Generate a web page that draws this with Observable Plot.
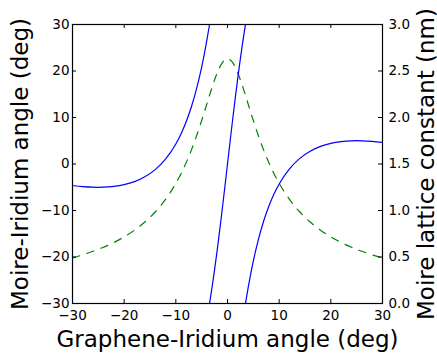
<!DOCTYPE html>
<html><head><meta charset="utf-8">
<script src="https://cdn.jsdelivr.net/npm/d3@7"></script>
<script src="https://cdn.jsdelivr.net/npm/@observablehq/plot@0.6"></script>
<style>
body{margin:0;background:#fff}
svg{font-family:"DejaVu Sans",sans-serif}
</style>
</head><body><div id="chart"></div>
<script>
// Tick values and labels
const xTicks = [-30, -20, -10, 0, 10, 20, 30];
const xTickLabels = ["−30", "−20", "−10", "0", "10", "20", "30"];
const yTicks = [-30, -20, -10, 0, 10, 20, 30];
const yTickLabels = ["−30", "−20", "−10", "0", "10", "20", "30"];
const nmTicks = [0, 0.5, 1, 1.5, 2, 2.5, 3];
const nmTickLabels = ["0.0", "0.5", "1.0", "1.5", "2.0", "2.5", "3.0"];

// Blue: Moire-Iridium angle (deg), three wrapped branches
const leftTheta = [-30, -28, -26, -25, -24, -22, -20, -18, -16, -14, -12, -10, -9, -8, -7, -6, -5, -4.5, -4, -3.48];
const leftAngle = [-4.62, -4.86, -4.99, -5.01, -4.99, -4.82, -4.44, -3.78, -2.74, -1.21, 1.04, 4.30, 6.46, 9.07, 12.25, 16.15, 20.85, 23.58, 26.58, 30];
const midTheta = [-3.48, -3.3, -3, -2.5, -2, -1.5, -1, -0.5, 0, 0.5, 1, 1.5, 2, 2.5, 3, 3.3, 3.48];
const midAngle = [-30, -28.75, -26.57, -22.71, -18.57, -14.18, -9.58, -4.83, 0, 4.83, 9.58, 14.18, 18.57, 22.71, 26.57, 28.75, 30];
const rightTheta = [3.48, 4, 4.5, 5, 6, 7, 8, 9, 10, 12, 14, 16, 18, 20, 22, 24, 25, 26, 28, 30];
const rightAngle = [-30, -26.58, -23.58, -20.85, -16.15, -12.25, -9.07, -6.46, -4.30, -1.04, 1.21, 2.74, 3.78, 4.44, 4.82, 4.99, 5.01, 4.99, 4.86, 4.62];

// Green dashed: Moire lattice constant (nm)
const latticeTheta = [-30, -28, -26, -24, -22, -20, -18, -16, -14, -12, -10, -9, -8, -7, -6, -5, -4.5, -4, -3.5, -3, -2.5, -2, -1.5, -1, -0.5, 0,
  0.5, 1, 1.5, 2, 2.5, 3, 3.5, 4, 4.5, 5, 6, 7, 8, 9, 10, 12, 14, 16, 18, 20, 22, 24, 26, 28, 30];
const latticeNm = [0.4906, 0.5236, 0.5613, 0.6050, 0.6560, 0.7162, 0.7882, 0.8757, 0.9836, 1.1190, 1.2918, 1.3961, 1.5148, 1.6493, 1.8005, 1.9672, 2.0551, 2.1445, 2.2342, 2.3216, 2.4042, 2.4788, 2.5418, 2.5901, 2.6202, 2.6306,
  2.6202, 2.5901, 2.5418, 2.4788, 2.4042, 2.3216, 2.2342, 2.1445, 2.0551, 1.9672, 1.8005, 1.6493, 1.5148, 1.3961, 1.2918, 1.1190, 0.9836, 0.8757, 0.7882, 0.7162, 0.6560, 0.6050, 0.5613, 0.5236, 0.4906];

// Dual axis mapping: right axis [0, 3] nm onto left axis [-30, 30] deg
const yDomain = [-30, 30];
const nmDomain = [0, 3];
const nmToY = v => yDomain[0] + (v - nmDomain[0]) * (yDomain[1] - yDomain[0]) / (nmDomain[1] - nmDomain[0]);

const blue = [
  ...leftTheta.map((t, i) => ({theta: t, angle: leftAngle[i], branch: "left"})),
  ...midTheta.map((t, i) => ({theta: t, angle: midAngle[i], branch: "mid"})),
  ...rightTheta.map((t, i) => ({theta: t, angle: rightAngle[i], branch: "right"}))
];
const green = latticeTheta.map((t, i) => ({theta: t, y: nmToY(latticeNm[i])}));

const xLabelMap = new Map(xTicks.map((v, i) => [v, xTickLabels[i]]));
const yLabelMap = new Map(yTicks.map((v, i) => [v, yTickLabels[i]]));
const nmY = nmTicks.map(nmToY);
const nmLabelMap = new Map(nmY.map((v, i) => [v, nmTickLabels[i]]));

const W = 437, H = 353, mL = 72, mR = 55, mT = 24, mB = 50;
const frameW = W - mL - mR, frameH = H - mT - mB, tick = 4;
const labelSize = 23, tickFontSize = 13.5;

const chart = Plot.plot({
  width: W, height: H,
  marginLeft: mL, marginRight: mR, marginTop: mT, marginBottom: mB,
  style: {fontFamily: "DejaVu Sans, sans-serif", fontSize: "13px", background: "white", color: "black"},
  x: {domain: [-30, 30]},
  y: {domain: yDomain},
  marks: [
    Plot.line(green, {x: "theta", y: "y", stroke: "#008000", strokeWidth: 1.2, strokeDasharray: "7.5,7.5", curve: "monotone-x"}),
    Plot.line(blue, {x: "theta", y: "angle", z: "branch", stroke: "#0000ff", strokeWidth: 1.2, curve: "monotone-x", clip: true}),
    Plot.ruleX(xTicks, {x: d => d, insetTop: frameH - tick, stroke: "black"}),
    Plot.ruleX(xTicks, {x: d => d, insetBottom: frameH - tick, stroke: "black"}),
    Plot.ruleY(yTicks, {y: d => d, insetRight: frameW - tick, stroke: "black"}),
    Plot.ruleY(nmY, {y: d => d, insetLeft: frameW - tick, stroke: "black"}),
    Plot.frame({stroke: "black", strokeWidth: 1.2}),
    Plot.axisX(xTicks, {tickSize: 0, tickPadding: 7, fontSize: tickFontSize, label: null, tickFormat: d => xLabelMap.get(d)}),
    Plot.axisY(yTicks, {anchor: "left", tickSize: 0, tickPadding: 3, fontSize: tickFontSize, label: null, tickFormat: d => yLabelMap.get(d)}),
    Plot.axisY(nmY, {anchor: "right", tickSize: 0, tickPadding: 6, fontSize: tickFontSize, label: null, tickFormat: d => nmLabelMap.get(d)}),
    Plot.text(["Graphene-Iridium angle (deg)"], {text: d => d, frameAnchor: "bottom", textAnchor: "middle", dy: 43, lineAnchor: "bottom", fontSize: labelSize}),
    Plot.text(["Moire-Iridium angle (deg)"], {text: d => d, frameAnchor: "left", textAnchor: "middle", rotate: -90, dx: -45, lineAnchor: "bottom", fontSize: labelSize}),
    Plot.text(["Moire lattice constant (nm)"], {text: d => d, frameAnchor: "right", textAnchor: "middle", rotate: -90, dx: 51, lineAnchor: "bottom", fontSize: labelSize})
  ]
});
document.getElementById("chart").appendChild(chart);
</script>
</body></html>
